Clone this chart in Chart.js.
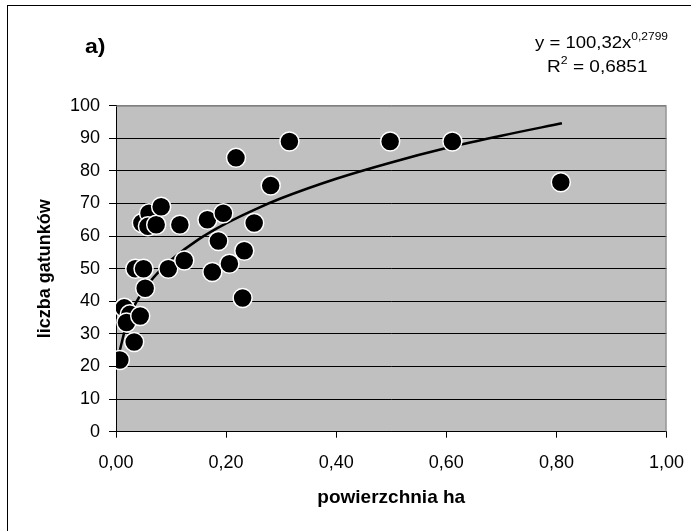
<!DOCTYPE html>
<html>
<head>
<meta charset="utf-8">
<script src="https://cdn.jsdelivr.net/npm/chart.js@4.4.0/dist/chart.umd.min.js"></script>
<style>
  body { margin: 0; overflow: hidden; background: #fff; font-family: "Liberation Sans", Arial, sans-serif; }
  #wrap { position: relative; width: 691px; height: 531px; }
  #chart { position: absolute; left: 0; top: 0; }
  #frame { position: absolute; left: 7px; top: 5px; width: 720px; height: 560px; border-left: 1px solid #000; border-top: 1px solid #000; }
  .txt { position: absolute; white-space: nowrap; color: #000; transform-origin: left top; }
  sup { font-size: 11px; position: relative; top: -1px; }
</style>
</head>
<body>
<div id="wrap">
  <div id="frame"></div>
  <canvas id="chart" width="691" height="531"></canvas>
  <div class="txt" style="left:85px; top:34px; font-size:20px; line-height:24px; font-weight:bold; transform:scaleX(1.15);">a)</div>
  <div class="txt" style="left:535px; top:27px; font-size:17px; line-height:20px; transform:scaleX(1.09);">y = 100,32x<sup>0,2799</sup></div>
  <div class="txt" style="left:547px; top:51px; font-size:17px; line-height:20px; transform:scaleX(1.12);">R<sup>2</sup> = 0,6851</div>
</div>
<script>
"use strict";

// dane
const area_ha = [0.007, 0.015, 0.025, 0.019, 0.044, 0.033, 0.035, 0.050, 0.053,
  0.047, 0.060, 0.058, 0.073, 0.082, 0.095, 0.116, 0.124, 0.166, 0.175, 0.186,
  0.195, 0.206, 0.218, 0.230, 0.233, 0.251, 0.281, 0.315, 0.498, 0.611, 0.808];
const species = [22, 38, 36, 33.5, 35.5, 27.5, 50, 50, 44,
  64, 67, 63, 63.5, 69, 50, 63.5, 52.5, 65, 49, 58.5,
  67, 51.5, 84, 41, 55.5, 64, 75.5, 89, 89, 89, 76.5];

// linia trendu potegowego
const trend_x = [0.007, 0.02, 0.04, 0.06, 0.08, 0.10, 0.15, 0.20, 0.25, 0.30, 0.40, 0.50, 0.60, 0.70, 0.81];
const trend_y = [25, 33.5, 40.7, 45.6, 49.5, 52.7, 59, 63.9, 68, 71.6, 77.6, 82.6, 87, 90.8, 94.6];

const x_ticks = [0, 0.2, 0.4, 0.6, 0.8, 1.0];

const points = area_ha.map(function (x, i) { return { x: x, y: species[i] }; });
const trend = trend_x.map(function (x, i) { return { x: x, y: trend_y[i] }; });

const plotBg = {
  id: "plotBg",
  beforeDraw: function (chart) {
    const a = chart.chartArea;
    const ctx = chart.ctx;
    ctx.save();
    ctx.fillStyle = "#c0c0c0";
    ctx.fillRect(a.left, a.top, a.right - a.left, a.bottom - a.top);
    ctx.restore();
  },
  beforeDatasetsDraw: function (chart) {
    const a = chart.chartArea;
    const ctx = chart.ctx;
    ctx.save();
    ctx.strokeStyle = "#808080";
    ctx.lineWidth = 1;
    ctx.beginPath();
    ctx.moveTo(a.left, a.top + 0.5);
    ctx.lineTo(a.right - 0.5, a.top + 0.5);
    ctx.lineTo(a.right - 0.5, a.bottom);
    ctx.stroke();
    ctx.restore();
  }
};

const fontFam = "'Liberation Sans', Arial, sans-serif";

new Chart(document.getElementById("chart"), {
  type: "scatter",
  data: {
    datasets: [
      {
        data: points,
        backgroundColor: "#000",
        borderColor: "#fff",
        borderWidth: 1.5,
        pointRadius: 9.5,
        pointHoverRadius: 9.5,
        order: 1
      },
      {
        type: "line",
        data: trend,
        borderColor: "#000",
        borderWidth: 2.5,
        pointRadius: 0,
        fill: false,
        cubicInterpolationMode: "monotone",
        order: 2
      }
    ]
  },
  options: {
    responsive: false,
    animation: false,
    events: [],
    layout: { padding: { left: 0, right: 24.5, top: 105.7, bottom: 0 } },
    plugins: { legend: { display: false }, tooltip: { enabled: false } },
    scales: {
      x: {
        type: "linear",
        min: 0,
        max: 1,
        afterBuildTicks: function (scale) {
          scale.ticks = x_ticks.map(function (v) { return { value: v }; });
        },
        afterFit: function (scale) {
          scale.height = 99.3;
          scale.paddingLeft = 0;
          scale.paddingRight = 0;
        },
        grid: { drawOnChartArea: false, drawTicks: true, tickLength: 6, tickColor: "#000" },
        border: { color: "#000", width: 1 },
        ticks: {
          padding: 15,
          color: "#000",
          font: { family: fontFam, size: 18 },
          callback: function (v) { return Number(v).toFixed(2).replace(".", ","); }
        },
        title: {
          display: true,
          text: "powierzchnia ha",
          color: "#000",
          font: { family: fontFam, size: 19, weight: "bold" },
          padding: { top: 0, bottom: 22 }
        }
      },
      y: {
        min: 0,
        max: 100,
        afterFit: function (scale) {
          scale.width = 116;
          scale.paddingTop = 0;
          scale.paddingBottom = 0;
        },
        grid: {
          color: function (c) { return c.tick && c.tick.value === 100 ? "#808080" : "#000"; },
          drawTicks: true,
          tickLength: 7,
          tickColor: "#000"
        },
        border: { color: "#000", width: 1 },
        ticks: {
          stepSize: 10,
          padding: 9,
          color: "#000",
          font: { family: fontFam, size: 18 }
        },
        title: {
          display: true,
          text: "liczba gatunków",
          color: "#000",
          font: { family: fontFam, size: 18, weight: "bold" },
          padding: { top: 34, bottom: 0 }
        }
      }
    }
  },
  plugins: [plotBg]
});
</script>
</body>
</html>
